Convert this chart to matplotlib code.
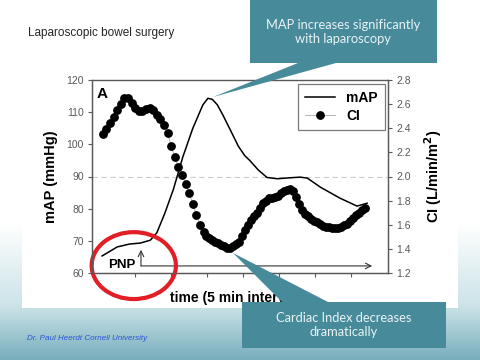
import numpy as np
import matplotlib
matplotlib.use("Agg")
import matplotlib.pyplot as plt
from matplotlib.lines import Line2D
from matplotlib.patches import Ellipse, Polygon, Rectangle

plt.rcParams['font.family'] = ['Liberation Sans', 'DejaVu Sans']

# mean arterial pressure (left axis), time in minutes
map_t = [1.4, 3.5, 5.2, 6.7, 8.1, 9.0, 10.1, 11.3, 12.6, 14.0, 15.4, 16.1,
         16.7, 17.4, 18.2, 19.2, 20.3, 21.2, 21.9, 23.1, 24.3, 25.7, 27.5,
         28.9, 29.9, 31.7, 34.4, 36.8, 38.2]
map_val = [65.3, 68.1, 69.0, 69.3, 70.2, 72.5, 78.5, 86.0, 96.0, 105.0, 112.3,
           114.3, 114.0, 112.3, 109.0, 104.5, 99.5, 96.5, 95.0, 92.0, 89.7,
           89.3, 89.6, 89.8, 89.5, 86.7, 83.3, 80.8, 81.7]

# cardiac index (right axis)
ci_t = [1.5, 2.0, 2.5, 3.0, 3.5, 4.0, 4.5, 5.0, 5.5, 6.0, 6.5, 7.0, 7.5, 8.0,
        8.5, 9.0, 9.5, 10.0, 10.5, 11.0, 11.5, 12.0, 12.5, 13.0, 13.5, 14.0,
        14.5, 15.0, 15.5,
        15.83, 16.25, 16.67, 17.08, 17.5, 17.92, 18.33, 18.75, 19.17, 19.58,
        20.0, 20.42, 20.83, 21.25, 21.67, 22.08, 22.5, 22.92, 23.33, 23.75,
        24.17, 24.58, 25.0, 25.42, 25.83, 26.25, 26.67, 27.08, 27.5, 27.92,
        28.33, 28.75, 29.17, 29.58, 30.0, 30.42, 30.83, 31.25, 31.67, 32.08,
        32.5, 32.92, 33.33, 33.75, 34.17, 34.58, 35.0, 35.42, 35.83, 36.25,
        36.67, 37.08, 37.5, 37.92]
ci_val = [2.35, 2.39, 2.44, 2.49, 2.55, 2.60, 2.65, 2.65, 2.61, 2.57, 2.54,
          2.54, 2.56, 2.57, 2.55, 2.51, 2.48, 2.43, 2.36, 2.25, 2.16, 2.08,
          2.01, 1.94, 1.86, 1.77, 1.68, 1.60, 1.54,
          1.51, 1.49, 1.47, 1.46, 1.45, 1.43, 1.42, 1.41, 1.41, 1.42, 1.44,
          1.46, 1.51, 1.56, 1.60, 1.64, 1.67, 1.70, 1.74, 1.78, 1.80, 1.82,
          1.82, 1.83, 1.84, 1.86, 1.88, 1.89, 1.90, 1.88, 1.83, 1.77, 1.72,
          1.69, 1.67, 1.65, 1.63, 1.62, 1.61, 1.59, 1.58, 1.58, 1.57, 1.57,
          1.57, 1.58, 1.60, 1.61, 1.63, 1.66, 1.68, 1.70, 1.72, 1.74]

x_ticks = [6, 11, 16, 21, 26, 31, 36]
map_ticks = [60, 70, 80, 90, 100, 110, 120]
ci_ticks = [1.2, 1.4, 1.6, 1.8, 2.0, 2.2, 2.4, 2.6, 2.8]

TEAL = '#478b9b'


def draw_background(fig):
    bg = fig.add_axes([0, 0, 1, 1], zorder=0)
    bg.set_xlim(0, 480)
    bg.set_ylim(360, 0)
    bg.axis('off')
    # slide background: white fading into a pale teal at the bottom
    rows = np.linspace(0, 1, 360)
    top = np.array([1.0, 1.0, 1.0])
    mid = np.array([0.80, 0.89, 0.91])
    low = np.array([0.47, 0.68, 0.74])
    img = np.zeros((360, 1, 3))
    for i, r in enumerate(rows):
        if r < 0.62:
            img[i, 0] = top
        elif r < 0.85:
            f = (r - 0.62) / 0.23
            img[i, 0] = top * (1 - f) + mid * f
        else:
            f = (r - 0.85) / 0.15
            img[i, 0] = mid * (1 - f) + low * f
    bg.imshow(img, extent=[0, 480, 360, 0], aspect='auto')
    bg.add_patch(Rectangle((22, 0), 436, 308, color='white', lw=0))
    return bg


def draw_chart(fig):
    ax = fig.add_axes([92 / 480, 87 / 360, 296 / 480, 193 / 360], zorder=2)
    ax2 = ax.twinx()

    ax.axhline(90, color='0.8', ls='--', lw=0.8, dashes=(5, 3), zorder=1)
    ax.plot(map_t, map_val, color='black', lw=1.1, zorder=3)
    ax2.plot(ci_t, ci_val, color='0.6', lw=0.5, marker='o', ms=5.3,
             mfc='black', mec='black', zorder=3)

    ax.set_xlim(0, 41.1)
    ax.set_ylim(60, 120)
    ax2.set_ylim(1.2, 2.8)
    ax.set_xticks(x_ticks)
    ax.set_xticklabels([])
    ax.set_yticks(map_ticks)
    ax2.set_yticks(ci_ticks)
    ax2.set_yticklabels([f"{v:.1f}" for v in ci_ticks])

    for a in (ax, ax2):
        a.tick_params(length=3, width=0.8, color='0.35', labelsize=7.5,
                      labelcolor='0.35', pad=3)
        for s in a.spines.values():
            s.set_color('0.35')
            s.set_linewidth(0.9)
    ax.spines['top'].set_color('0.6')

    ax.set_ylabel("mAP (mmHg)", fontsize=10.5, fontweight='bold', labelpad=6)
    ax2.set_ylabel("CI (L/min/m$^\\mathbf{2}$)", fontsize=10.5,
                   fontweight='bold', labelpad=8)
    ax.set_xlabel("time (5 min intervals)", fontsize=10, fontweight='bold',
                  labelpad=7)

    ax.text(0.017, 0.965, "A", transform=ax.transAxes, fontsize=11,
            fontweight='bold', va='top', ha='left')

    # PNP marker and time arrow
    ax.text(4.2, 62.6, "PNP", fontsize=9.5, fontweight='bold',
            ha='center', va='center', zorder=4)
    arrow = dict(arrowstyle='->', color='0.2', lw=0.8, shrinkA=0, shrinkB=0)
    ax.annotate('', xy=(6.8, 67.2), xytext=(6.8, 62.2), arrowprops=arrow)
    ax.annotate('', xy=(38.9, 62.2), xytext=(6.8, 62.2), arrowprops=arrow)

    ax.add_patch(Ellipse((5.8, 62.3), 11.7, 20.8, fill=False,
                         edgecolor='#e21f26', lw=3, clip_on=False, zorder=5))

    handles = [
        Line2D([], [], color='black', lw=1.1),
        Line2D([], [], color='0.6', lw=0.5, marker='o', ms=5.3,
               mfc='black', mec='black'),
    ]
    leg = ax2.legend(handles, ["mAP", "CI"], loc='upper right',
                     bbox_to_anchor=(0.99, 0.98), borderaxespad=0,
                     frameon=True, fancybox=False,
                     prop={'weight': 'bold', 'size': 10}, handlelength=2.2,
                     borderpad=0.5, labelspacing=0.3)
    leg.get_frame().set_edgecolor('0.35')
    leg.get_frame().set_linewidth(0.9)
    return ax, ax2


def draw_callouts(fig):
    ov = fig.add_axes([0, 0, 1, 1], zorder=6)
    ov.set_xlim(0, 480)
    ov.set_ylim(360, 0)
    ov.axis('off')
    ov.patch.set_alpha(0)

    top = [(250, 0), (437, 0), (437, 63), (336, 63), (213, 97),
           (298, 63), (250, 63)]
    ov.add_patch(Polygon(top, closed=True, color=TEAL, lw=0))
    ov.text(343, 32, "MAP increases significantly\nwith laparoscopy",
            ha='center', va='center', color='#eaf3f5', fontsize=9.3,
            family=['Lato', 'DejaVu Sans'], linespacing=1.2)

    bottom = [(242, 302), (282, 302), (233, 253), (328, 302), (446, 302),
              (446, 348), (242, 348)]
    ov.add_patch(Polygon(bottom, closed=True, color=TEAL, lw=0))
    ov.text(344, 325, "Cardiac Index decreases\ndramatically",
            ha='center', va='center', color='#eaf3f5', fontsize=9.3,
            family=['Lato', 'DejaVu Sans'], linespacing=1.2)


def main():
    fig = plt.figure(figsize=(4.8, 3.6), dpi=100)
    draw_background(fig)
    draw_chart(fig)
    draw_callouts(fig)

    fig.text(28 / 480, 1 - 33 / 360, "Laparoscopic bowel surgery",
             fontsize=8.5, color='0.15', va='center', ha='left')
    fig.text(27 / 480, 1 - 338 / 360, "Dr. Paul Heerdt Cornell University",
             fontsize=5.8, style='italic', color='#2b55d6',
             va='center', ha='left')

    fig.savefig("out.png", dpi=100)


if __name__ == "__main__":
    main()
